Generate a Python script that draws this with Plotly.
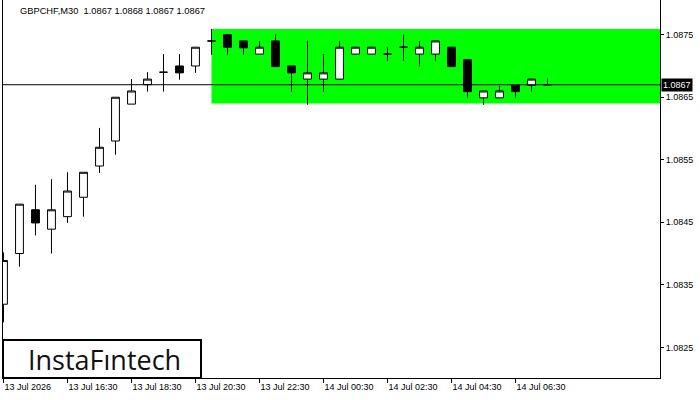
import plotly.graph_objects as go

symbol_title = "GBPCHF,M30  1.0867 1.0868 1.0867 1.0867"
bars = list(range(35))
opens = [1.08319, 1.08400, 1.08470, 1.08439, 1.08459, 1.08490, 1.08540, 1.08580, 1.08639, 1.08670,
         1.08690, 1.08700, 1.08700, 1.08740, 1.08750, 1.08740, 1.08719, 1.08740, 1.08700, 1.08679,
         1.08679, 1.08679, 1.08719, 1.08719, 1.08719, 1.08730, 1.08719, 1.08719, 1.08730, 1.08710,
         1.08649, 1.08649, 1.08669, 1.08669, 1.08670]
highs = [1.08402, 1.08479, 1.08510, 1.08519, 1.08530, 1.08530, 1.08601, 1.08650, 1.08679, 1.08690,
         1.08719, 1.08719, 1.08730, 1.08759, 1.08750, 1.08740, 1.08740, 1.08750, 1.08700, 1.08740,
         1.08719, 1.08740, 1.08730, 1.08730, 1.08730, 1.08750, 1.08740, 1.08740, 1.08730, 1.08710,
         1.08660, 1.08668, 1.08669, 1.08679, 1.08680]
lows = [1.08290, 1.08379, 1.08429, 1.08400, 1.08449, 1.08459, 1.08529, 1.08558, 1.08639, 1.08659,
        1.08659, 1.08678, 1.08689, 1.08718, 1.08718, 1.08718, 1.08719, 1.08699, 1.08659, 1.08638,
        1.08659, 1.08679, 1.08719, 1.08719, 1.08708, 1.08708, 1.08699, 1.08708, 1.08699, 1.08649,
        1.08638, 1.08649, 1.08649, 1.08659, 1.08670]
closes = [1.08389, 1.08479, 1.08449, 1.08470, 1.08500, 1.08530, 1.08570, 1.08650, 1.08660, 1.08679,
          1.08690, 1.08689, 1.08730, 1.08740, 1.08730, 1.08729, 1.08730, 1.08699, 1.08689, 1.08689,
          1.08689, 1.08730, 1.08730, 1.08730, 1.08719, 1.08730, 1.08730, 1.08740, 1.08699, 1.08659,
          1.08660, 1.08660, 1.08659, 1.08679, 1.08670]

x_tick_bars = [0, 4, 8, 12, 16, 20, 24, 28, 32]
x_tick_labels = ["13 Jul 2026", "13 Jul 16:30", "13 Jul 18:30", "13 Jul 20:30", "13 Jul 22:30",
                 "14 Jul 00:30", "14 Jul 02:30", "14 Jul 04:30", "14 Jul 06:30"]
y_ticks = [1.0825, 1.0835, 1.0845, 1.0855, 1.0865, 1.0875]

zone_start_bar = 13
zone_low = 1.08640
zone_high = 1.08759
current_price = 1.0867

x_range = [-0.03, 41.03]
y_range = [1.08201, 1.088055]

font_ui = "Liberation Sans"

fig = go.Figure()
fig.add_trace(go.Candlestick(
    x=bars, open=opens, high=highs, low=lows, close=closes,
    increasing=dict(line=dict(color="black", width=1), fillcolor="white"),
    decreasing=dict(line=dict(color="black", width=1), fillcolor="black"),
    whiskerwidth=0, showlegend=False, hoverinfo="skip",
))

fig.add_shape(type="rect", xref="x", yref="y", x0=zone_start_bar, x1=x_range[1],
              y0=zone_low, y1=zone_high, fillcolor="#00FF00", line=dict(width=0), layer="below")
fig.add_shape(type="line", xref="paper", yref="y", x0=0, x1=1, y0=current_price, y1=current_price,
              line=dict(color="black", width=1), layer="above")

# logo box
fig.add_shape(type="rect", xref="paper", yref="paper", x0=0.0, x1=198 / 657, y0=0.0, y1=38 / 378,
              line=dict(color="black", width=2), fillcolor="white", layer="above")
fig.add_annotation(xref="paper", yref="paper", x=101 / 657, y=19 / 378, text="InstaFıntech",
                   showarrow=False, font=dict(family="Open Sans", size=27, color="#111111"),
                   xanchor="center", yanchor="middle")

fig.add_annotation(xref="paper", yref="paper", x=15 / 657, y=1, yshift=-4, text=symbol_title,
                   showarrow=False, font=dict(family=font_ui, size=9.3, color="black"),
                   xanchor="left", yanchor="top")

fig.add_annotation(xref="paper", yref="y", x=1, y=current_price, text="1.0867", showarrow=False,
                   xanchor="left", yanchor="middle", xshift=1, bgcolor="black", borderpad=1,
                   font=dict(family=font_ui, size=9, color="white"))

fig.update_xaxes(range=x_range, showgrid=False, zeroline=False, rangeslider_visible=False,
                 showline=True, linecolor="black", linewidth=1,
                 ticks="outside", ticklen=4, tickcolor="black", tickwidth=1,
                 tickvals=x_tick_bars, ticktext=x_tick_labels,
                 ticklabelposition="outside right",
                 tickfont=dict(family=font_ui, size=9, color="black"), fixedrange=True)
fig.update_yaxes(range=y_range, side="right", showgrid=False, zeroline=False,
                 showline=True, mirror=True, linecolor="black", linewidth=1,
                 ticks="outside", ticklen=3, tickcolor="black", tickwidth=1,
                 tickvals=y_ticks, tickformat=".4f",
                 tickfont=dict(family=font_ui, size=9, color="black"), fixedrange=True)

fig.update_layout(width=700, height=400, margin=dict(l=3, r=40, t=0, b=22),
                  paper_bgcolor="white", plot_bgcolor="white", showlegend=False)

fig.write_html("out.html", config={"displayModeBar": False})
